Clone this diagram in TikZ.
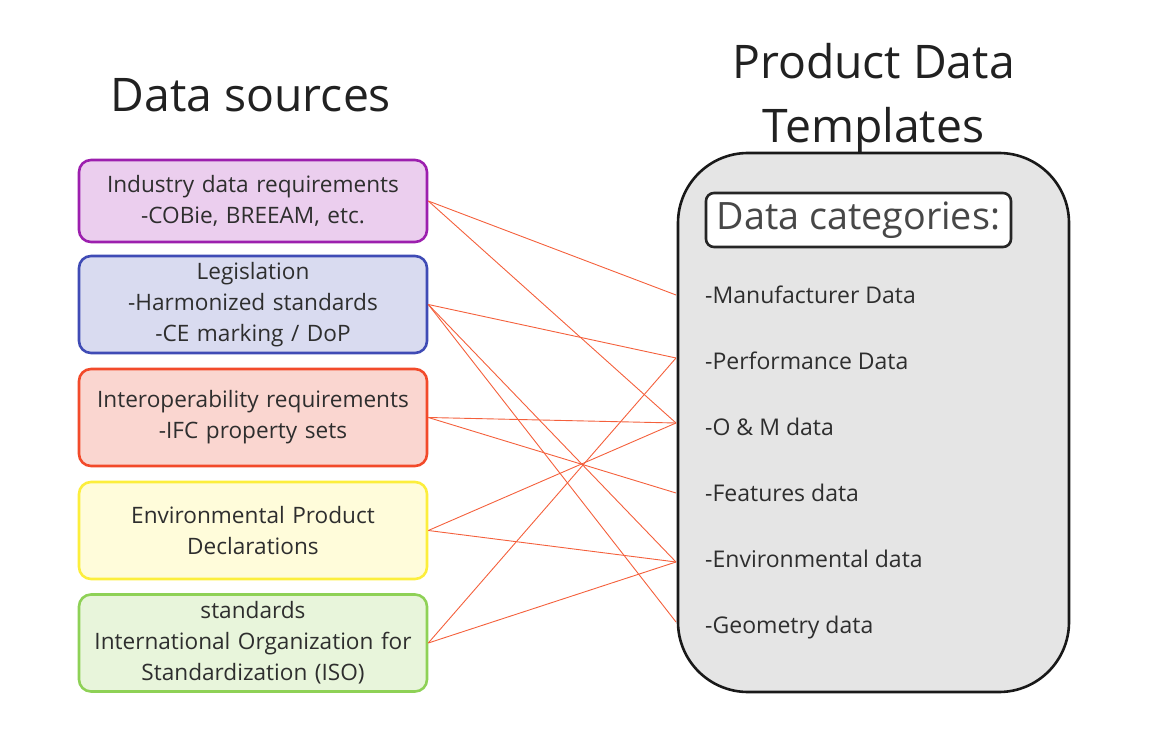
\documentclass[tikz,border=0pt]{standalone}
\usepackage{fontspec}
\setmainfont{Open Sans}
\usetikzlibrary{positioning}
\definecolor{txtgray}{HTML}{2E2E2E}
\definecolor{linkred}{HTML}{F4603C}
\definecolor{indline}{HTML}{9C1FAE}\definecolor{indfill}{HTML}{EBCEEE}
\definecolor{legline}{HTML}{3F4BB5}\definecolor{legfill}{HTML}{D9DBF0}
\definecolor{ifcline}{HTML}{F24A2A}\definecolor{ifcfill}{HTML}{FAD6D0}
\definecolor{epdline}{HTML}{FCEE3C}\definecolor{epdfill}{HTML}{FFFCDA}
\definecolor{isoline}{HTML}{8ED156}\definecolor{isofill}{HTML}{E8F5DB}
\definecolor{pdtfill}{HTML}{E5E5E5}
\begin{document}
\begin{tikzpicture}[x=1pt, y=-1pt,
    srcbox/.style={draw, line width=2.6pt, rounded corners=12pt, minimum width=348pt,
      text width=340pt, align=center, text=txtgray, font=\fontsize{22.6}{31}\selectfont},
    item/.style={anchor=base west, inner sep=0pt, text=txtgray, font=\fontsize{23}{26}\selectfont},
    title/.style={inner sep=0pt, text=black!87, font=\fontsize{46.3}{64}\selectfont},
    link/.style={linkred, line width=0.9pt}]
	\useasboundingbox (0,0) rectangle (1160,746);
	% titles
	\node[title, anchor=base] (srctitle) at (251,112) {Data sources};
	\node[title, anchor=base] (pdttitle) at (873.5,79) {Product Data};
	\node[title, anchor=base] (pdttitle2) at (873.5,143) {Templates};
	% data sources
	\node[srcbox, draw=indline, fill=indfill, minimum height=82pt] (ind) at (253,201)
		{Industry data requirements\\-COBie, BREEAM, etc.};
	\node[srcbox, draw=legline, fill=legfill, minimum height=97pt] (leg) at (253,304.5)
		{Legislation\\-Harmonized standards\\-CE marking / DoP};
	\node[srcbox, draw=ifcline, fill=ifcfill, minimum height=97pt] (ifc) at (253,417.5)
		{Interoperability requirements\\-IFC property sets};
	\node[srcbox, draw=epdline, fill=epdfill, minimum height=97pt] (epd) at (253,530.5)
		{Environmental Product\\Declarations};
	\node[srcbox, draw=isoline, fill=isofill, minimum height=97pt] (iso) at (253,643)
		{standards\\International Organization for\\Standardization (ISO)};
	% product data templates
	\node[draw=black!90, line width=2.6pt, fill=pdtfill, rounded corners=70pt,
		minimum width=391pt, minimum height=539pt] (pdt) at (873.5,422.5) {};
	\node[draw=black!85, line width=2.6pt, fill=white, rounded corners=8pt,
		minimum width=305pt, minimum height=54pt, text=black!72,
		font=\fontsize{37.7}{40}\selectfont] (cat) at (858.5,220) {Data categories:};
	\node[item] (mfr) at (705,303.5) {-Manufacturer Data};
	\node[item] (perf) at (705,369.5) {-Performance Data};
	\node[item] (om) at (705,435.5) {-O \& M data};
	\node[item] (feat) at (705,501.5) {-Features data};
	\node[item] (env) at (705,567.5) {-Environmental data};
	\node[item] (geom) at (705,633.5) {-Geometry data};
	% ports on the left edge of the template box
	\coordinate (pmfr)  at (676,295);
	\coordinate (pperf) at (676,358);
	\coordinate (pom)   at (676,423);
	\coordinate (pfeat) at (676,493);
	\coordinate (penv)  at (676,562);
	\coordinate (pgeom) at (676,622);
	% links
	\draw[link] (ind.east) -- (pmfr);
	\draw[link] (ind.east) -- (pom);
	\draw[link] (leg.east) -- (pperf);
	\draw[link] (leg.east) -- (penv);
	\draw[link] (leg.east) -- (pgeom);
	\draw[link] (ifc.east) -- (pom);
	\draw[link] (ifc.east) -- (pfeat);
	\draw[link] (epd.east) -- (pom);
	\draw[link] (epd.east) -- (penv);
	\draw[link] (iso.east) -- (pperf);
	\draw[link] (iso.east) -- (penv);
\end{tikzpicture}
\end{document}
